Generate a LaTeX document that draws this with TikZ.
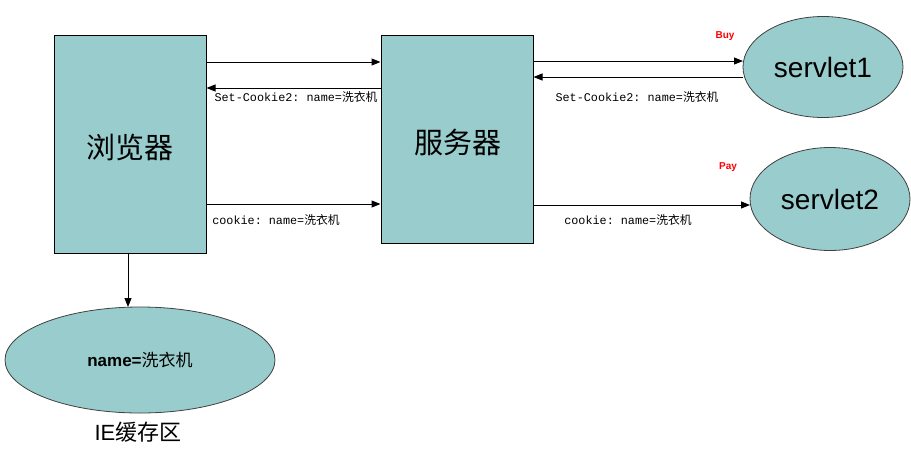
\documentclass[tikz,border=0pt]{standalone}
\usepackage{fontspec}
\setmainfont{Liberation Sans}
\setmonofont{Liberation Mono}
\newfontfamily\cjk{Noto Sans CJK SC}
\newfontfamily\cjklight{Noto Sans CJK SC Light}
\usetikzlibrary{shapes.geometric,arrows.meta}
\definecolor{boxfill}{RGB}{153,204,204}
\definecolor{buyred}{RGB}{255,0,0}
\tikzset{
  box/.style={draw=black,line width=1pt,fill=boxfill,minimum width=152pt,inner sep=0pt},
  oval/.style={ellipse,draw=black!75,line width=0.8pt,fill=boxfill,inner sep=0pt},
  arr/.style={draw=black,line width=1pt,-{Triangle[length=9pt,width=7pt]}},
  lbl/.style={font=\fontsize{11.8pt}{12pt}\selectfont\ttfamily,inner sep=0pt},
  tag/.style={font=\fontsize{10pt}{11pt}\selectfont\bfseries,text=buyred,inner sep=0pt}
}
\begin{document}
\begin{tikzpicture}[x=1pt,y=-1pt]
\useasboundingbox (0,0) rectangle (911,448);
\node[box,minimum height=218pt] (browser) at (130,144) {};
\node[font=\fontsize{29pt}{30pt}\selectfont\cjk] (browsertxt) at (130,147) {浏览器};
\node[box,minimum height=208pt] (server) at (457,139) {};
\node[font=\fontsize{29pt}{30pt}\selectfont\cjk] (servertxt) at (458,142) {服务器};
\node[oval,minimum width=160pt,minimum height=101pt,font=\fontsize{28pt}{30pt}\selectfont] (s1) at (823,67) {servlet1};
\node[oval,minimum width=160pt,minimum height=103pt,font=\fontsize{28pt}{30pt}\selectfont] (s2) at (830,199) {servlet2};
\node[oval,minimum width=270pt,minimum height=106pt,font=\fontsize{17pt}{18pt}\selectfont] (ie) at (140,360) {\textbf{name=}{\cjk 洗衣机}};
\node[font=\fontsize{22pt}{24pt}\selectfont,inner sep=0pt] (ietxt) at (138,432) {IE{\cjk 缓存区}};
% browser <-> server
\draw[arr] (browser.east |- 0,62) -- (server.west |- 0,62);
\draw[arr] (server.west |- 0,88) -- (browser.east |- 0,88);
\draw[arr] (browser.east |- 0,204) -- (server.west |- 0,204);
% server <-> servlets
\draw[arr] (server.east |- 0,61) -- (743,61);
\draw[arr] (743,77) -- (server.east |- 0,77);
\draw[arr] (server.east |- 0,205) -- (750,205);
% browser -> IE cache
\draw[arr] (browser.south -| 128,0) -- (128,307);
% labels
\node[lbl] (l1) at (296,97) {Set-Cookie2: name={\cjk 洗衣机}};
\node[lbl] (l2) at (637,97) {Set-Cookie2: name={\cjk 洗衣机}};
\node[lbl] (l3) at (276,220) {cookie: name={\cjk 洗衣机}};
\node[lbl] (l4) at (628,220) {cookie: name={\cjk 洗衣机}};
\node[tag] (buy) at (725,36) {Buy};
\node[tag] (pay) at (728,167) {Pay};
\end{tikzpicture}
\end{document}
